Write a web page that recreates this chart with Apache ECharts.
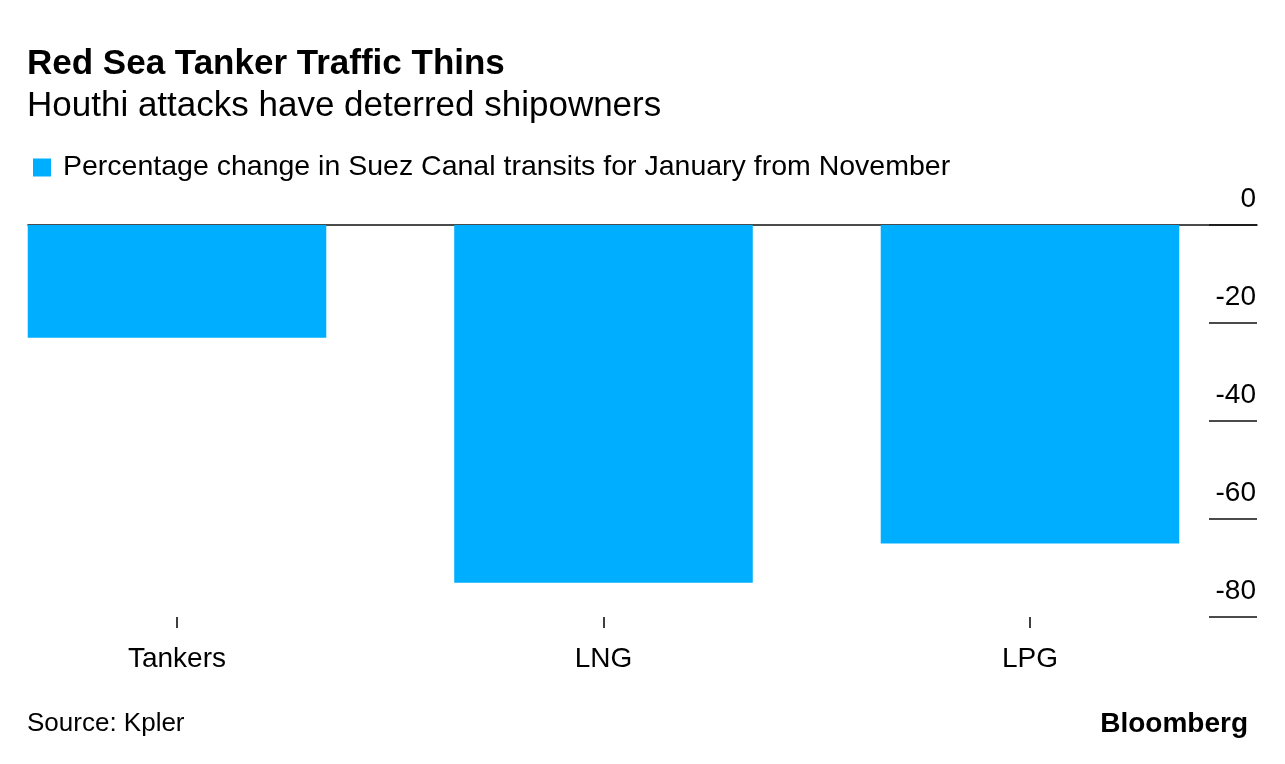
<!DOCTYPE html>
<html>
<head>
<meta charset="utf-8">
<script src="https://cdn.jsdelivr.net/npm/echarts@6/dist/echarts.min.js"></script>
<style>html,body{margin:0;padding:0;background:#fff;}#chart{width:1285px;height:764px;}</style>
</head>
<body>
<div id="chart"></div>
<script>
const categories = ['Tankers', 'LNG', 'LPG'];
const values = [-23, -73, -65];
const seriesName = 'Percentage change in Suez Canal transits for January from November';
const yTicks = { min: -80, max: 0, interval: 20 };

const FONT = '"Liberation Sans", Arial, sans-serif';
const chart = echarts.init(document.getElementById('chart'));
chart.setOption({
  backgroundColor: '#fff',
  animation: false,
  textStyle: { fontFamily: FONT, color: '#000' },
  title: [
    {
      text: 'Red Sea Tanker Traffic Thins',
      subtext: 'Houthi attacks have deterred shipowners',
      left: 22, top: 42, itemGap: 7,
      textStyle: { fontFamily: FONT, fontSize: 35, fontWeight: 'bold', color: '#000' },
      subtextStyle: { fontFamily: FONT, fontSize: 35, color: '#000' }
    },
    {
      text: 'Source: Kpler', left: 22, top: 706,
      textStyle: { fontFamily: FONT, fontSize: 26, fontWeight: 'normal', color: '#000' }
    },
    {
      text: 'Bloomberg', right: 32, top: 705,
      textStyle: { fontFamily: FONT, fontSize: 28, fontWeight: 'bold', color: '#000' }
    }
  ],
  legend: {
    left: 28, top: 148, icon: 'rect', itemWidth: 18, itemHeight: 18, itemGap: 10,
    textStyle: { fontFamily: FONT, fontSize: 28.5, color: '#000', padding: [0, 0, 0, 7] },
    data: [seriesName]
  },
  grid: [
    { left: 177, right: 255, top: 225, bottom: 147 },
    { left: 28, right: 28, top: 225, bottom: 147 }
  ],
  xAxis: [
    {
      type: 'category', gridIndex: 0, data: categories, boundaryGap: false,
      axisLine: { show: false, onZero: false },
      axisTick: { show: true, length: 11, lineStyle: { color: '#000', width: 1.5 } },
      axisLabel: { margin: 28, fontSize: 28, color: '#000', fontFamily: FONT }
    },
    {
      type: 'category', gridIndex: 1, data: categories,
      axisLine: { show: true, onZero: true, lineStyle: { color: '#111', width: 1.5 } },
      axisTick: { show: false }, axisLabel: { show: false }
    }
  ],
  yAxis: [
    {
      type: 'value', gridIndex: 0, min: yTicks.min, max: yTicks.max, interval: yTicks.interval,
      show: false
    },
    {
      type: 'value', gridIndex: 1, position: 'right', min: yTicks.min, max: yTicks.max, interval: yTicks.interval,
      axisLine: { show: false },
      splitLine: { show: false },
      axisTick: { show: true, inside: true, length: 48, lineStyle: { color: '#111', width: 1.5 } },
      axisLabel: {
        inside: true, align: 'right', verticalAlign: 'bottom', margin: 1,
        padding: [0, 0, 12, 0], fontSize: 28, color: '#000', fontFamily: FONT
      }
    }
  ],
  series: [
    {
      name: seriesName, type: 'bar', xAxisIndex: 0, yAxisIndex: 0,
      data: values, barCategoryGap: '30%', clip: false,
      itemStyle: { color: '#00AEFF' }
    }
  ]
});
</script>
</body>
</html>
